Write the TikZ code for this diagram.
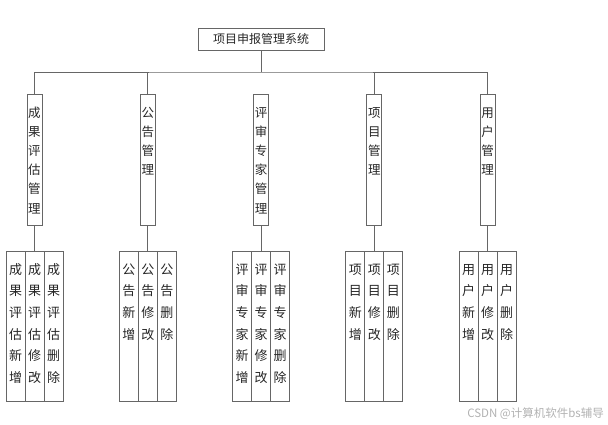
\documentclass[tikz,border=0pt]{standalone}
\usepackage{fontspec}
\newfontfamily\cjk{Noto Sans CJK SC}
\usetikzlibrary{positioning}
\tikzset{
  box/.style={draw=black!60, line width=0.7pt, outer sep=0pt, inner sep=0pt, text=black!85},
  rootbox/.style={box, minimum width=126pt, minimum height=22pt, font=\cjk\fontsize{12}{14}\selectfont},
  catbox/.style={box, text width=15pt, align=center, text height=23pt, text depth=108pt,
    font=\cjk\fontsize{12.5}{19.2}\selectfont},
  leafbox/.style={box, text width=19pt, align=center, text height=23pt, text depth=127pt,
    font=\cjk\fontsize{13}{21.7}\selectfont},
  link/.style={draw=black!60, line width=0.7pt}
}
\begin{document}
\begin{tikzpicture}[x=1pt,y=-1pt]
\useasboundingbox (0,0) rectangle (608,424);

\node[rootbox] (root) at (261,39) {项目申报管理系统};
\coordinate (bus) at (261,72);

% second level
\node[catbox] (cg) at (34.5,159.5) {成\\果\\评\\估\\管\\理};
\node[catbox] (gg) at (147.75,159.5) {公\\告\\管\\理};
\node[catbox] (zj) at (261,159.5) {评\\审\\专\\家\\管\\理};
\node[catbox] (xm) at (374.25,159.5) {项\\目\\管\\理};
\node[catbox] (yh) at (487.5,159.5) {用\\户\\管\\理};

% third level
\node[leafbox] (cg2) at (34.5,326) {成\\果\\评\\估\\修\\改};
\node[leafbox, left=0pt of cg2] (cg1) {成\\果\\评\\估\\新\\增};
\node[leafbox, right=0pt of cg2] (cg3) {成\\果\\评\\估\\删\\除};

\node[leafbox] (gg2) at (147.75,326) {公\\告\\修\\改};
\node[leafbox, left=0pt of gg2] (gg1) {公\\告\\新\\增};
\node[leafbox, right=0pt of gg2] (gg3) {公\\告\\删\\除};

\node[leafbox] (zj2) at (261,326) {评\\审\\专\\家\\修\\改};
\node[leafbox, left=0pt of zj2] (zj1) {评\\审\\专\\家\\新\\增};
\node[leafbox, right=0pt of zj2] (zj3) {评\\审\\专\\家\\删\\除};

\node[leafbox] (xm2) at (374.25,326) {项\\目\\修\\改};
\node[leafbox, left=0pt of xm2] (xm1) {项\\目\\新\\增};
\node[leafbox, right=0pt of xm2] (xm3) {项\\目\\删\\除};

\node[leafbox] (yh2) at (487.5,326) {用\\户\\修\\改};
\node[leafbox, left=0pt of yh2] (yh1) {用\\户\\新\\增};
\node[leafbox, right=0pt of yh2] (yh3) {用\\户\\删\\除};

% connectors
\draw[link] (root.south) -- (bus);
\draw[link] (cg.north) |- (bus) -| (yh.north);
\draw[link] (gg.north) -- (gg.north |- bus);
\draw[link] (xm.north) -- (xm.north |- bus);
\draw[link] (cg.south) -- (cg2.north);
\draw[link] (gg.south) -- (gg2.north);
\draw[link] (zj.south) -- (zj2.north);
\draw[link] (xm.south) -- (xm2.north);
\draw[link] (yh.south) -- (yh2.north);

\node[anchor=east, inner sep=0pt, text=black!30, font=\cjk\fontsize{11.5}{13}\selectfont] (mark) at (604,414) {CSDN @计算机软件bs辅导};
\end{tikzpicture}
\end{document}
